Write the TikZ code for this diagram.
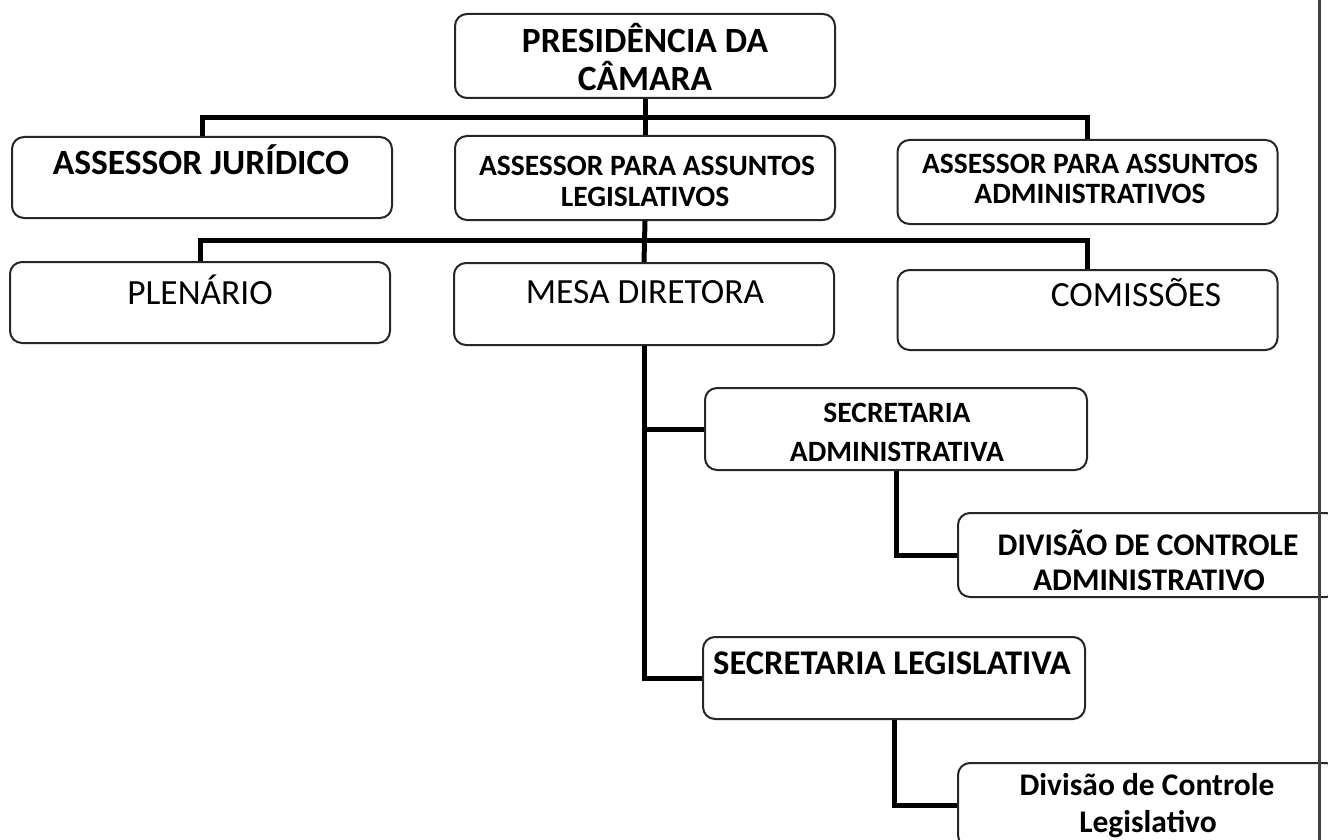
\documentclass[tikz,border=0pt]{standalone}
\usepackage{fontspec}
\setmainfont{Carlito}
\tikzset{
  caixa/.style={draw=black!85, line width=1pt, rounded corners=6pt,
    minimum width=190pt, minimum height=42pt, inner sep=0pt},
  linha/.style={line width=2.5pt},
  tgrande/.style={anchor=base, inner sep=0pt, font=\bfseries\fontsize{17.75}{20}\selectfont},
  tmedio/.style={anchor=base, inner sep=0pt, font=\bfseries\fontsize{14.75}{17}\selectfont},
  tnormal/.style={anchor=base, inner sep=0pt, font=\fontsize{17.7}{20}\selectfont},
  tdiv/.style={anchor=base, inner sep=0pt, font=\bfseries\fontsize{15.75}{18}\selectfont},
}
\begin{document}
\begin{tikzpicture}[x=0.5pt,y=-0.5pt]
\useasboundingbox (0,0) rectangle (1328,840);
\clip (0,0) rectangle (1328,840);

% caixas
\node[caixa] (pres) at (645,56) {};
\node[caixa,minimum height=40.5pt] (jur) at (202,177.5) {};
\node[caixa] (leg) at (645,178) {};
\node[caixa] (adm) at (1087.5,182) {};
\node[caixa,minimum height=40.5pt] (plen) at (200,302.5) {};
\node[caixa,minimum height=41pt] (mesa) at (644,304) {};
\node[caixa,minimum height=40pt] (com) at (1087.5,310) {};
\node[caixa,minimum width=191pt,minimum height=41pt] (secadm) at (896,429) {};
\node[caixa] (divadm) at (1148,555) {};
\node[caixa,minimum width=191pt,minimum height=41pt] (secleg) at (894,678) {};
\node[caixa] (divleg) at (1148,805) {};

% ligacoes
\coordinate (barraA) at (645,118);
\coordinate (barraB) at (645,240);
\draw[linha] (pres.south) -- (leg.north);
\draw[linha] (jur.north) |- (barraA) -| (adm.north);
\draw[linha] (leg.south) -- (mesa.north);
\draw[linha] (plen.north) |- (barraB) -| (com.north);
\draw[linha] (mesa.south) |- (secleg.west);
\draw[linha] (mesa.south |- secadm.west) -- (secadm.west);
\draw[linha] (secadm.south) |- (divadm.west);
\draw[linha] (secleg.south) |- (divleg.west);

% margem da folha
\draw[line width=1.5pt, black!75] (1319,0) -- (1319,840);

% textos
\node[tgrande] (presA) at (645,53) {PRESIDÊNCIA DA};
\node[tgrande] (presB) at (645,91) {CÂMARA};
\node[tgrande] (jurA) at (201,175) {ASSESSOR JURÍDICO};
\node[tmedio] (legA) at (647,176) {ASSESSOR PARA ASSUNTOS};
\node[tmedio] (legB) at (645,206) {LEGISLATIVOS};
\node[tmedio] (admA) at (1090,174) {ASSESSOR PARA ASSUNTOS};
\node[tmedio] (admB) at (1090,203) {ADMINISTRATIVOS};
\node[tnormal] (plenA) at (200,304) {PLENÁRIO};
\node[tnormal] (mesaA) at (645,303) {MESA DIRETORA};
\node[tnormal] (comA) at (1136,306) {COMISSÕES};
\node[tmedio] (secadmA) at (897,422) {SECRETARIA};
\node[tmedio] (secadmB) at (897,461) {ADMINISTRATIVA};
\node[tdiv] (divadmA) at (1148,555) {DIVISÃO DE CONTROLE};
\node[tdiv] (divadmB) at (1149,590) {ADMINISTRATIVO};
\node[tgrande,font=\bfseries\fontsize{17.3}{20}\selectfont] (seclegA) at (892,674) {SECRETARIA LEGISLATIVA};
\node[tdiv] (divlegA) at (1147,795) {Divisão de Controle};
\node[tdiv] (divlegB) at (1148,832) {Legislativo};
\end{tikzpicture}
\end{document}
